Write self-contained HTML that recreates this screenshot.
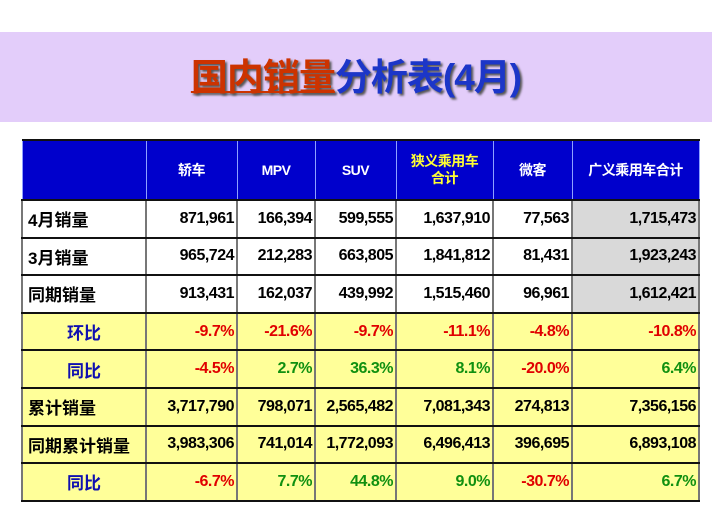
<!DOCTYPE html>
<html><head><meta charset="utf-8"><style>
body{margin:0;width:712px;height:517px;background:#fff;position:relative;overflow:hidden;font-family:"Liberation Sans","Noto Sans CJK SC",sans-serif;}
.band{position:absolute;left:0;top:32px;width:712px;height:90px;background:#e3cdfa;}
.title{position:absolute;left:0;top:56px;width:712px;text-align:center;font-size:37px;font-weight:bold;line-height:44px;color:#1c36c8;text-shadow:2px 2px 2px #555;letter-spacing:-1px;}
.title .r{color:#cc3300;text-decoration:underline;text-decoration-thickness:2px;}
table{position:absolute;left:21px;top:139px;border-collapse:collapse;table-layout:fixed;}
td{border-left:2px solid #777;border-right:2px solid #777;border-top:2px solid #111;border-bottom:2px solid #111;font-size:16px;font-weight:bold;text-align:right;padding:0 2px 0 0;height:35.6px;white-space:nowrap;letter-spacing:-0.5px;vertical-align:middle;}
tr.h td{background:#0000cc;color:#fff;text-align:center;height:58px;font-size:14px;border-left:1px solid #8fa0ff;border-right:1px solid #8fa0ff;line-height:17px;padding:0;}
tr.h td.y{color:#ffff33;}
td.l{text-align:left;padding-left:5px;font-size:17px;letter-spacing:0;}
td.c{text-align:center;color:#1010b0;padding:0;font-size:17px;letter-spacing:0;}
tr.w td{background:#fff;}
tr.y td{background:#ffff99;}
td.g{background:#d9d9d9 !important;}
.red{color:#e00000;}.grn{color:#109010;}
</style></head><body>
<div class="band"></div>
<div class="title"><span class="r">国内销量</span>分析表(4月)</div>
<table>
<colgroup><col style="width:124px"><col style="width:91px"><col style="width:78px"><col style="width:81px"><col style="width:97px"><col style="width:79px"><col style="width:127px"></colgroup>
<tr class="h"><td></td><td>轿车</td><td>MPV</td><td>SUV</td><td class="y">狭义乘用车<br>合计</td><td>微客</td><td>广义乘用车合计</td></tr>
<tr class="w"><td class="l">4月销量</td><td>871,961</td><td>166,394</td><td>599,555</td><td>1,637,910</td><td>77,563</td><td class="g">1,715,473</td></tr>
<tr class="w"><td class="l">3月销量</td><td>965,724</td><td>212,283</td><td>663,805</td><td>1,841,812</td><td>81,431</td><td class="g">1,923,243</td></tr>
<tr class="w"><td class="l">同期销量</td><td>913,431</td><td>162,037</td><td>439,992</td><td>1,515,460</td><td>96,961</td><td class="g">1,612,421</td></tr>
<tr class="y"><td class="c">环比</td><td class="red">-9.7%</td><td class="red">-21.6%</td><td class="red">-9.7%</td><td class="red">-11.1%</td><td class="red">-4.8%</td><td class="red">-10.8%</td></tr>
<tr class="y"><td class="c">同比</td><td class="red">-4.5%</td><td class="grn">2.7%</td><td class="grn">36.3%</td><td class="grn">8.1%</td><td class="red">-20.0%</td><td class="grn">6.4%</td></tr>
<tr class="y"><td class="l">累计销量</td><td>3,717,790</td><td>798,071</td><td>2,565,482</td><td>7,081,343</td><td>274,813</td><td>7,356,156</td></tr>
<tr class="y"><td class="l">同期累计销量</td><td>3,983,306</td><td>741,014</td><td>1,772,093</td><td>6,496,413</td><td>396,695</td><td>6,893,108</td></tr>
<tr class="y"><td class="c">同比</td><td class="red">-6.7%</td><td class="grn">7.7%</td><td class="grn">44.8%</td><td class="grn">9.0%</td><td class="red">-30.7%</td><td class="grn">6.7%</td></tr>
</table>
</body></html>
